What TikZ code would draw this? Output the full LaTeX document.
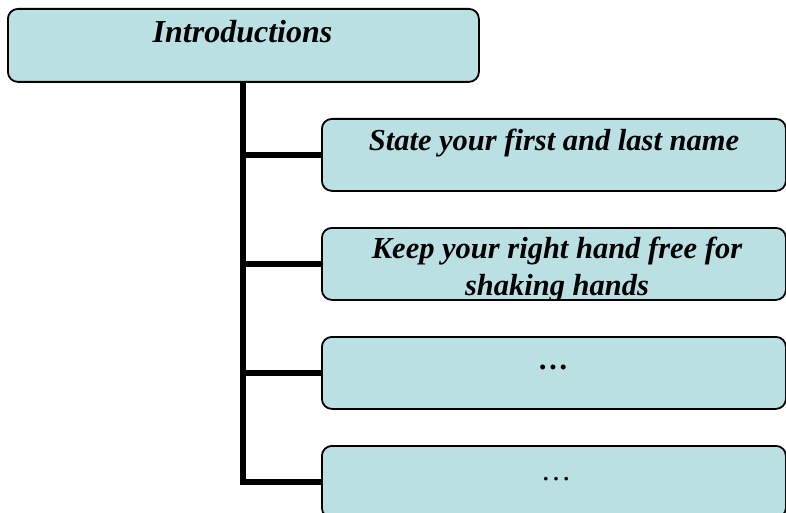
\documentclass[tikz,border=0pt]{standalone}
\usepackage{fontspec}
\setmainfont{Liberation Serif}
\definecolor{boxfill}{RGB}{186,224,227}
\begin{document}
\begin{tikzpicture}[x=1pt,y=-1pt,
  box/.style={draw=black, line width=1.8pt, fill=boxfill, rounded corners=10pt,
    anchor=north west, inner sep=0pt, minimum width=464pt, minimum height=72pt},
  conn/.style={line width=6pt, draw=black, line join=miter},
  lbl/.style={anchor=base, inner sep=0pt, align=center,
    font=\fontsize{30.5}{37}\selectfont\bfseries\itshape}]
\useasboundingbox (0,0) rectangle (786,513);
\clip (0,0) rectangle (786,513);
% boxes
\node[box, minimum width=471pt, minimum height=73pt] (top) at (7,8) {};
\node[box] (b1) at (321,118) {};
\node[box] (b2) at (321,227) {};
\node[box] (b3) at (321,336) {};
\node[box] (b4) at (321,445) {};
% connectors
\draw[conn] (top.south) |- (b4.west);
\draw[conn] (top.south |- b1.west) -- (b1.west);
\draw[conn] (top.south |- b2.west) -- (b2.west);
\draw[conn] (top.south |- b3.west) -- (b3.west);
% texts
\node[lbl, font=\fontsize{32}{38}\selectfont\bfseries\itshape] (t0) at (242.5,43) {Introductions};
\node[lbl] (t1) at (554,150) {State your first and last name};
\begin{scope}
  \clip (b2.north west) rectangle (b2.south east);
  \node[lbl] (t2) at (557,295) {Keep your right hand free for\\shaking hands};
\end{scope}
\node[lbl] (t3) at (554,369) {…};
\node[lbl, font=\fontsize{30.5}{37}\selectfont] (t4) at (556,480) {…};
\end{tikzpicture}
\end{document}
